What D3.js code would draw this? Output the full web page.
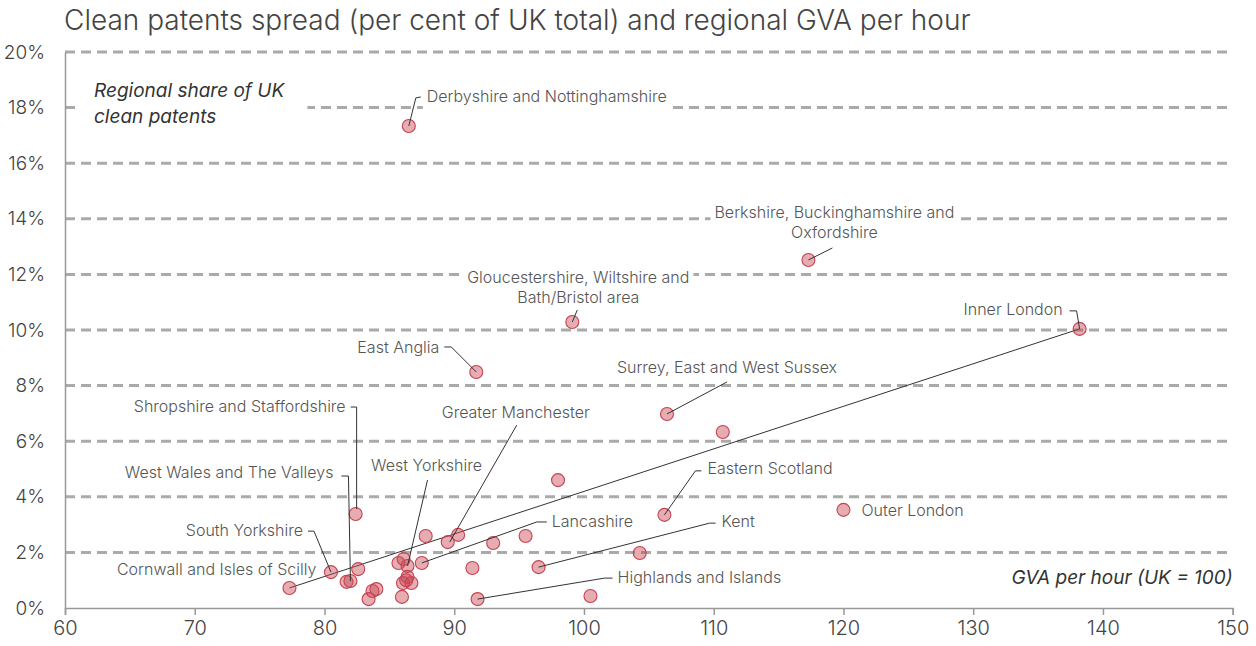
<!DOCTYPE html>
<html>
<head>
<meta charset="utf-8">
<script src="https://cdn.jsdelivr.net/npm/d3@7"></script>
<style>
  html, body { margin: 0; padding: 0; background: #fff; }
  svg { display: block; font-family: Inter, Roboto, "Noto Sans", sans-serif; }
</style>
</head>
<body>
<svg id="chart" width="1256" height="646"></svg>
<script>
// ---------------- DATA ----------------
const title = "Clean patents spread (per cent of UK total) and regional GVA per hour";
const yAxisNote = ["Regional share of UK", "clean patents"];
const xAxisNote = "GVA per hour (UK = 100)";

const regionNames = [
  "Derbyshire and Nottinghamshire", "Berkshire, Buckinghamshire and Oxfordshire",
  "Gloucestershire, Wiltshire and Bath/Bristol area", "Inner London", "East Anglia",
  "Surrey, East and West Sussex", "", "", "Shropshire and Staffordshire", "Eastern Scotland",
  "Outer London", "", "", "", "", "", "Greater Manchester", "", "Lancashire", "", "Kent",
  "Highlands and Islands", "", "", "West Yorkshire", "", "", "", "", "", "South Yorkshire",
  "", "West Wales and The Valleys", "Cornwall and Isles of Scilly", "", "", "", ""
];
const gvaPerHour = [
  86.5, 117.3, 99.1, 138.2, 91.7,
  106.4, 110.7, 98.0, 82.4, 106.2,
  120.0, 104.3, 100.5, 95.5, 93.0, 90.3, 89.5, 87.8, 87.5, 91.4, 96.5,
  91.8, 85.7, 86.1, 86.4, 86.4, 86.05, 86.7, 85.97, 82.6, 80.5,
  81.7, 82.0, 77.3, 83.4, 83.7, 84.0, 86.3
];
const cleanPatentShare = [
  17.34, 12.52, 10.29, 10.04, 8.49,
  6.98, 6.33, 4.60, 3.38, 3.35,
  3.53, 1.98, 0.43, 2.59, 2.34, 2.63, 2.37, 2.59, 1.62, 1.44, 1.47,
  0.32, 1.62, 1.76, 1.51, 1.12, 0.90, 0.90, 0.40, 1.40, 1.29,
  0.94, 0.97, 0.72, 0.32, 0.61, 0.68, 1.00
];
// trend line endpoints (GVA, share)
const trendGva = [77.3, 138.2];
const trendShare = [0.72, 10.04];

const xTicks = [60, 70, 80, 90, 100, 110, 120, 130, 140, 150];
const xTickLabels = ["60", "70", "80", "90", "100", "110", "120", "130", "140", "150"];
const yTicks = [0, 2, 4, 6, 8, 10, 12, 14, 16, 18, 20];
const yTickLabels = ["0%", "2%", "4%", "6%", "8%", "10%", "12%", "14%", "16%", "18%", "20%"];

// ---------------- LAYOUT (label placement, px offsets from the point) ----------------
const labelLayout = {
  "Derbyshire and Nottinghamshire": { lines: ["Derbyshire and Nottinghamshire"], anchor: "start", dx: 18, dy: -30, leader: [[12, -29], [7, -28], [0, 0]] },
  "Berkshire, Buckinghamshire and Oxfordshire": { lines: ["Berkshire, Buckinghamshire and", "Oxfordshire"], anchor: "middle", dx: 26, dy: -48, leader: [[24, -12], [0, 0]] },
  "Gloucestershire, Wiltshire and Bath/Bristol area": { lines: ["Gloucestershire, Wiltshire and", "Bath/Bristol area"], anchor: "middle", dx: 6, dy: -45, leader: [[5, -12], [0, 0]] },
  "Inner London": { lines: ["Inner London"], anchor: "end", dx: -17, dy: -19, leader: [[-10, -18], [-3, -18], [0, 0]] },
  "East Anglia": { lines: ["East Anglia"], anchor: "end", dx: -37, dy: -25, leader: [[-32, -25], [-25, -25], [0, 0]] },
  "Surrey, East and West Sussex": { lines: ["Surrey, East and West Sussex"], anchor: "middle", dx: 60, dy: -47, leader: [[60, -32], [0, 0]] },
  "Shropshire and Staffordshire": { lines: ["Shropshire and Staffordshire"], anchor: "end", dx: -10, dy: -108, leader: [[-5, -107], [1, -107], [1, -5]] },
  "Greater Manchester": { lines: ["Greater Manchester"], anchor: "middle", dx: 68, dy: -130, leader: [[69, -117], [2, 0]] },
  "West Wales and The Valleys": { lines: ["West Wales and The Valleys"], anchor: "end", dx: -17, dy: -109, leader: [[-9, -105], [-2, -105], [0, 0]] },
  "West Yorkshire": { lines: ["West Yorkshire"], anchor: "middle", dx: 19, dy: -101, leader: [[20, -86], [0, 0]] },
  "South Yorkshire": { lines: ["South Yorkshire"], anchor: "end", dx: -28, dy: -42, leader: [[-23, -41], [-17, -41], [0, 0]] },
  "Cornwall and Isles of Scilly": { lines: ["Cornwall and Isles of Scilly"], anchor: "end", dx: 27, dy: -19, leader: null },
  "Lancashire": { lines: ["Lancashire"], anchor: "start", dx: 130, dy: -42, leader: [[125, -41], [115, -41], [0, 0]] },
  "Eastern Scotland": { lines: ["Eastern Scotland"], anchor: "start", dx: 43, dy: -46, leader: [[37, -44], [31, -44], [0, 0]] },
  "Kent": { lines: ["Kent"], anchor: "start", dx: 183, dy: -46, leader: [[177, -44], [171, -44], [0, 0]] },
  "Highlands and Islands": { lines: ["Highlands and Islands"], anchor: "start", dx: 140, dy: -22, leader: [[135, -21], [127, -21], [0, 0]] },
  "Outer London": { lines: ["Outer London"], anchor: "start", dx: 18, dy: 1, leader: null }
};

// ---------------- CHART ----------------
const svg = d3.select("#chart");
const x = d3.scaleLinear().domain([60, 150]).range([65, 1232.7]);
const y = d3.scaleLinear().domain([0, 20]).range([608, 52]);

const points = gvaPerHour.map((g, i) => ({ name: regionNames[i], gva: g, share: cleanPatentShare[i] }));

// title
svg.append("text")
  .attr("x", 64).attr("y", 30)
  .attr("font-size", 28).attr("font-weight", 300).attr("fill", "#444")
  .text(title);

// gridlines
const gGrid = svg.append("g");
gGrid.selectAll("line").data(yTicks.filter(t => t > 0)).join("line")
  .attr("x1", x(60)).attr("x2", x(150))
  .attr("y1", d => y(d)).attr("y2", d => y(d))
  .attr("stroke", "#aaa").attr("stroke-width", 3).attr("stroke-dasharray", "10,6");

// label backgrounds layer (white boxes that interrupt gridlines)
const gBg = svg.append("g");

// axes
const xAxis = d3.axisBottom(x).tickValues(xTicks).tickFormat((d, i) => xTickLabels[i]).tickSize(7).tickPadding(6);
const gx = svg.append("g").attr("transform", `translate(0,${y(0)})`).call(xAxis);
gx.select(".domain").attr("stroke", "#999").attr("stroke-width", 1.5);
gx.selectAll(".tick line").attr("stroke", "#999").attr("stroke-width", 1.5);
gx.selectAll(".tick text").attr("font-size", 20).attr("fill", "#444").attr("font-family", "Inter").attr("font-weight", 300);

const yAxis = d3.axisLeft(y).tickValues(yTicks).tickFormat((d, i) => yTickLabels[i]).tickSize(0).tickPadding(20);
const gy = svg.append("g").attr("transform", `translate(${x(60)},0)`).call(yAxis);
gy.select(".domain").attr("stroke", "#999").attr("stroke-width", 1.5);
gy.selectAll(".tick text").attr("font-size", 19).attr("fill", "#444").attr("font-family", "Inter").attr("font-weight", 300);

// axis notes
const noteY = svg.append("text")
  .attr("x", 94).attr("y", 97)
  .attr("font-size", 19).attr("font-style", "italic").attr("fill", "#333");
yAxisNote.forEach((t, i) => noteY.append("tspan").attr("x", 94).attr("dy", i === 0 ? 0 : 26).text(t));
{
  const b = noteY.node().getBBox();
  gBg.append("rect").attr("x", b.x - 18).attr("y", b.y - 4).attr("width", b.width + 40).attr("height", b.height + 8).attr("fill", "#fff");
}
svg.append("text")
  .attr("x", x(150)).attr("y", 584).attr("text-anchor", "end")
  .attr("font-size", 19).attr("font-style", "italic").attr("fill", "#333")
  .text(xAxisNote);

// trend line
svg.append("line")
  .attr("x1", x(trendGva[0])).attr("y1", y(trendShare[0]))
  .attr("x2", x(trendGva[1])).attr("y2", y(trendShare[1]))
  .attr("stroke", "#333").attr("stroke-width", 1);

// points
svg.append("g").selectAll("circle").data(points).join("circle")
  .attr("cx", d => x(d.gva)).attr("cy", d => y(d.share)).attr("r", 6.5)
  .attr("fill", "rgba(200,70,85,0.45)").attr("stroke", "#c4434f").attr("stroke-width", 1.1);

// labels + leaders
const gLead = svg.append("g");
const gLab = svg.append("g");
points.filter(p => p.name && labelLayout[p.name]).forEach(p => {
  const L = labelLayout[p.name];
  const px = x(p.gva), py = y(p.share);
  if (L.leader) {
    gLead.append("path")
      .attr("d", d3.line()(L.leader.map(([dx, dy]) => [px + dx, py + dy])))
      .attr("fill", "none").attr("stroke", "#333").attr("stroke-width", 1);
  }
  const t = gLab.append("text")
    .attr("text-anchor", L.anchor).attr("font-size", 16).attr("fill", "#555").attr("font-weight", 300);
  L.lines.forEach((line, i) => {
    t.append("tspan").attr("x", px + L.dx).attr("y", py + L.dy + i * 20).attr("dy", "0.35em").text(line);
  });
  const b = t.node().getBBox();
  const cTop = py + L.dy, cBot = py + L.dy + (L.lines.length - 1) * 20;
  gBg.append("rect").attr("x", b.x - 4).attr("y", cTop - 10.5).attr("width", b.width + 8)
    .attr("height", (cBot + 14) - (cTop - 10.5)).attr("fill", "#fff");
});
</script>
</body>
</html>
